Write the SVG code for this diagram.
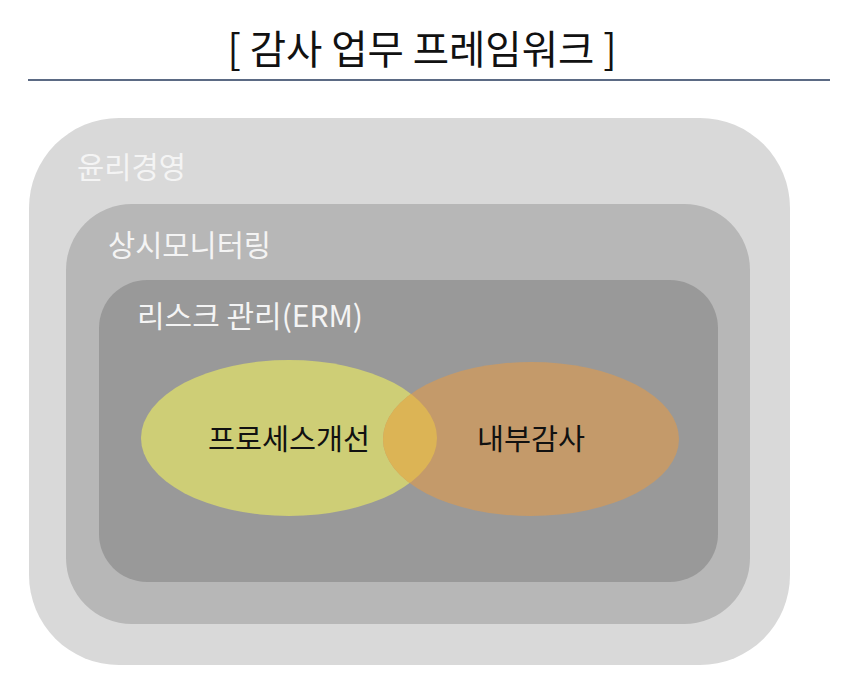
<svg xmlns="http://www.w3.org/2000/svg" width="848" height="696" viewBox="0 0 848 696">
<style>
.lbl{font-family:"Noto Sans CJK KR","Noto Sans",sans-serif;font-size:30px;fill:#f4f4f4}
.ctr{font-family:"Noto Sans CJK KR","Noto Sans",sans-serif;font-size:29px;fill:#111111;text-anchor:middle}
.title{font-family:"Noto Sans CJK KR","Noto Sans",sans-serif;font-size:40px;fill:#111111;text-anchor:middle}
</style>
<defs>
<clipPath id="clipY"><ellipse cx="289" cy="438" rx="148" ry="78"/></clipPath>
</defs>
<rect width="848" height="696" fill="#ffffff"/>
<g id="title">
<text class="title" x="422" y="64" textLength="389" lengthAdjust="spacingAndGlyphs">[ 감사 업무 프레임워크 ]</text>
<line x1="28" y1="80" x2="830" y2="80" stroke="#5b6a84" stroke-width="2"/>
</g>
<g id="ethics">
<rect x="29" y="118" width="761" height="547" rx="90" ry="90" fill="#d9d9d9"/>
<text class="lbl" x="77" y="178" textLength="109" lengthAdjust="spacingAndGlyphs">윤리경영</text>
</g>
<g id="monitoring">
<rect x="66" y="204" width="684" height="420" rx="66" ry="66" fill="#b7b7b7"/>
<text class="lbl" x="108" y="256" textLength="163" lengthAdjust="spacingAndGlyphs">상시모니터링</text>
</g>
<g id="erm">
<rect x="99" y="280" width="619" height="302" rx="48" ry="48" fill="#999999"/>
<text class="lbl" x="137" y="327" textLength="226" lengthAdjust="spacingAndGlyphs">리스크 관리(ERM)</text>
</g>
<g id="process">
<ellipse cx="289" cy="438" rx="148" ry="78" fill="#cece76"/>
</g>
<g id="audit">
<ellipse cx="531" cy="439" rx="148" ry="77" fill="#c49a6a"/>
<ellipse cx="531" cy="439" rx="148" ry="77" fill="#dcb455" clip-path="url(#clipY)"/>
</g>
<g id="labels">
<text class="ctr" x="289" y="450" textLength="162" lengthAdjust="spacingAndGlyphs">프로세스개선</text>
<text class="ctr" x="531" y="450" textLength="108" lengthAdjust="spacingAndGlyphs">내부감사</text>
</g>
<g id="connectors"></g>
</svg>
